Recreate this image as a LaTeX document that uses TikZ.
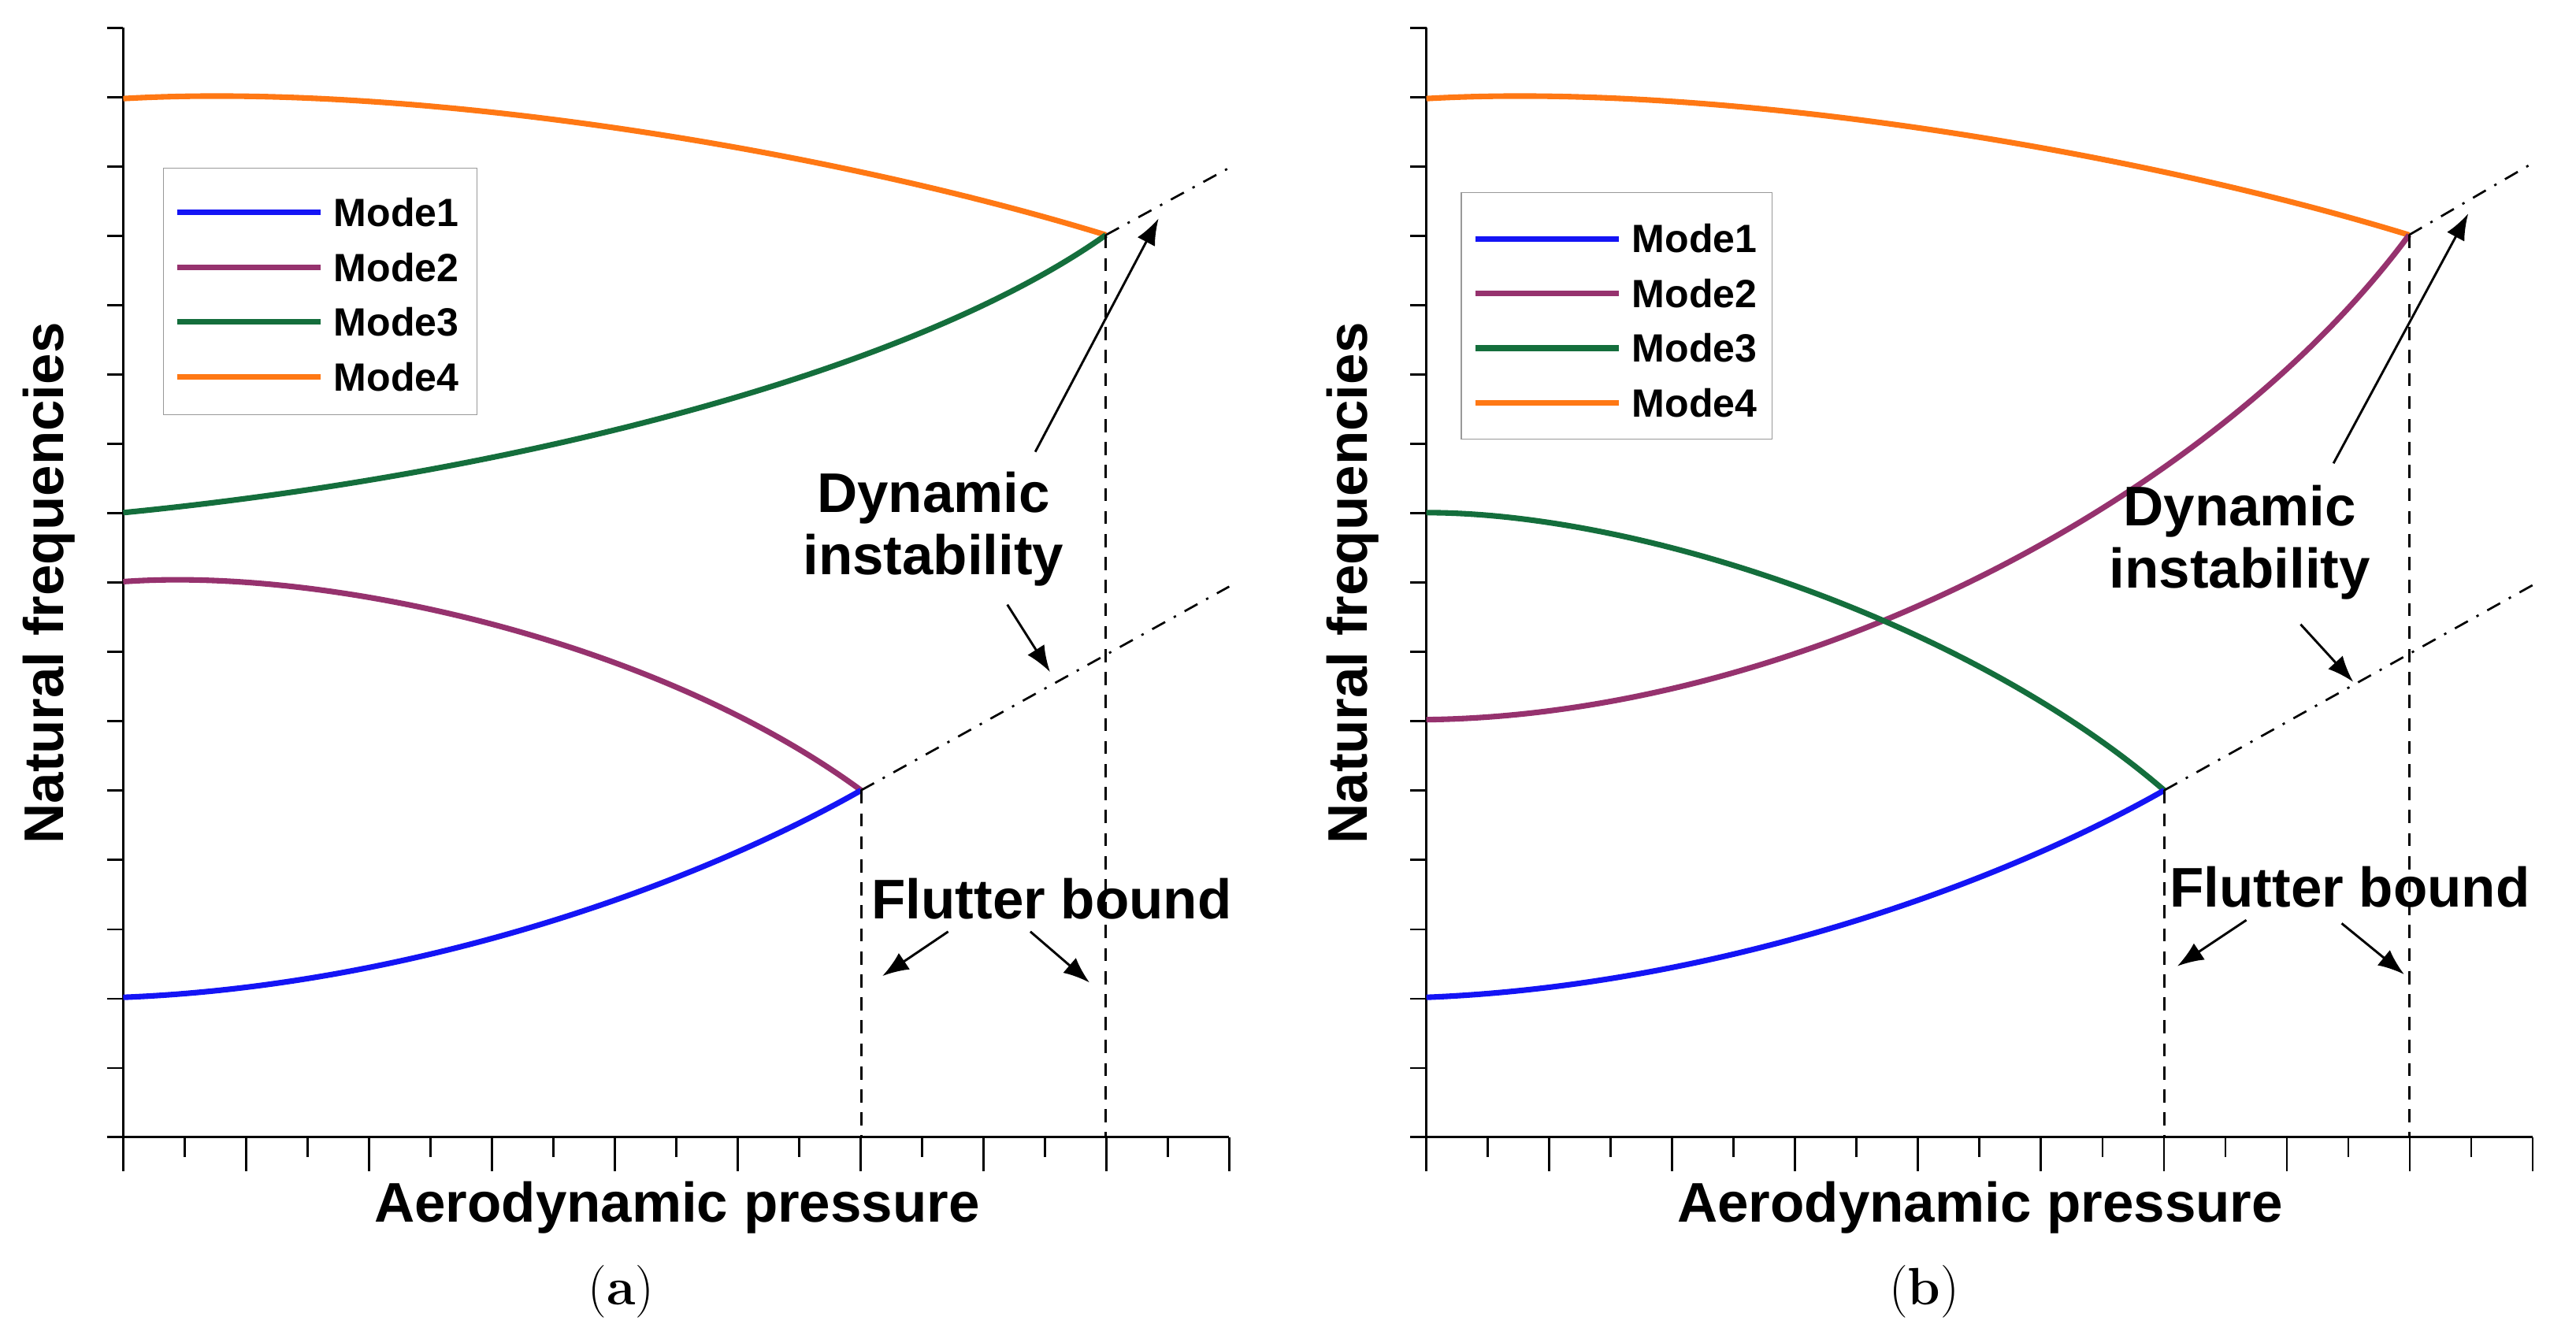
\documentclass[tikz,border=0pt]{standalone}
\usepackage{fontspec}
\setmainfont{Liberation Sans}
\newfontfamily\capfont{Latin Modern Roman}
\usetikzlibrary{arrows.meta}

\tikzset{
    curve/.style={line width=3.4pt},
    flutter/.style={dash pattern=on 8pt off 6pt, line width=1.4pt},
    unstable/.style={dash pattern=on 9pt off 6pt on 1.5pt off 6pt, line width=1.3pt},
    pointer/.style={-{Latex[length=16pt,width=12pt]}, line width=1.4pt},
    label/.style={font=\bfseries\fontsize{34}{38}\selectfont, align=center, inner sep=1pt},
    legtext/.style={font=\bfseries\fontsize{24}{27}\selectfont, anchor=west, inner sep=0pt}
}
\definecolor{mone}{RGB}{20,20,245}
\definecolor{mtwo}{RGB}{150,50,110}
\definecolor{mthree}{RGB}{20,110,60}
\definecolor{mfour}{RGB}{255,120,20}

\begin{document}
\begin{tikzpicture}[x=1pt,y=-1pt]
    \useasboundingbox (0,0) rectangle (1567.6,814.5);

    % axes of both panels
    \foreach \ox/\tag/\cap in {0/a/a, 793/b/b} {
        \begin{scope}[xshift=\ox pt]
            \draw[line width=1.3pt] (75,17) -- (75,692) (65,692) -- (748,692);
            \foreach \k in {0,...,16}
                \draw[line width=1.3pt] (65,17+42.2*\k) -- (75,17+42.2*\k);
            \foreach \k in {0,...,9}
                \draw[line width=1.3pt] (75+74.8*\k,692) -- (75+74.8*\k,713);
            \foreach \k in {0,...,8}
                \draw[line width=1.3pt] (112.4+74.8*\k,692) -- (112.4+74.8*\k,704);
            \node[label, rotate=90] (ylab-\tag) at (30,355) {Natural frequencies};
            \node[label] (xlab-\tag) at (412,735) {Aerodynamic pressure};
            \node[font=\capfont\fontsize{32}{36}\selectfont] (cap-\tag) at (378,786) {(\textbf{\cap})};
        \end{scope}
    }

    % panel (a)
    \coordinate (pa1) at (524,481);
    \coordinate (pa2) at (673,143);
    \draw[curve, mfour] (75,60) .. controls (250,50) and (500,90) .. (pa2);
    \draw[curve, mthree] (75,312) .. controls (300,290) and (550,230) .. (pa2);
    \draw[curve, mtwo] (75,354) .. controls (200,345) and (400,390) .. (pa1);
    \draw[curve, mone] (75,607) .. controls (250,600) and (420,540) .. (pa1);
    \coordinate (ea1) at (748,357);
    \coordinate (ea2) at (752,100);
    \coordinate (ba1) at (524,692);
    \coordinate (ba2) at (673,692);
    \draw[unstable] (pa1) -- (ea1);
    \draw[unstable] (pa2) -- (ea2);
    \draw[flutter] (pa1) -- (ba1);
    \draw[flutter] (pa2) -- (ba2);
    \node[label] (dyn-a) at (568,322) {Dynamic\\instability};
    \node[label] (flu-a) at (640,547) {Flutter bound};
    \draw[pointer] (630,275) -- (705,133);
    \draw[pointer] (613,368) -- (639,409);
    \draw[pointer] (577,567) -- (537,594);
    \draw[pointer] (627,567) -- (663,598);
    \node[draw=black!40, line width=0.6pt, minimum width=191pt, minimum height=150pt, anchor=north west] (leg-a) at (99,102) {};
    \foreach \c/\n [count=\i] in {mone/Mode1, mtwo/Mode2, mthree/Mode3, mfour/Mode4} {
        \draw[curve, \c] (108,96+33.3*\i) -- (195,96+33.3*\i);
        \node[legtext] (la-\i) at (203,96+33.3*\i) {\n};
    }

    % panel (b)
    \coordinate (pb1) at (1317,481);
    \coordinate (pb2) at (1466,143);
    \draw[curve, mfour] (868,60) .. controls (1043,50) and (1293,90) .. (pb2);
    \draw[curve, mtwo] (868,438) .. controls (1100,435) and (1350,300) .. (pb2);
    \draw[curve, mthree] (868,312) .. controls (1000,312) and (1200,380) .. (pb1);
    \draw[curve, mone] (868,607) .. controls (1043,600) and (1213,540) .. (pb1);
    \coordinate (eb1) at (1545,354);
    \coordinate (eb2) at (1540,100);
    \coordinate (bb1) at (1317,692);
    \coordinate (bb2) at (1466,692);
    \draw[unstable] (pb1) -- (eb1);
    \draw[unstable] (pb2) -- (eb2);
    \draw[flutter] (pb1) -- (bb1);
    \draw[flutter] (pb2) -- (bb2);
    \node[label] (dyn-b) at (1363,330) {Dynamic\\instability};
    \node[label] (flu-b) at (1430,540) {Flutter bound};
    \draw[pointer] (1420,282) -- (1502,130);
    \draw[pointer] (1400,380) -- (1432,415);
    \draw[pointer] (1367,560) -- (1325,588);
    \draw[pointer] (1425,562) -- (1463,593);
    \node[draw=black!40, line width=0.6pt, minimum width=189pt, minimum height=150pt, anchor=north west] (leg-b) at (889,117) {};
    \foreach \c/\n [count=\i] in {mone/Mode1, mtwo/Mode2, mthree/Mode3, mfour/Mode4} {
        \draw[curve, \c] (898,112+33.3*\i) -- (985,112+33.3*\i);
        \node[legtext] (lb-\i) at (993,112+33.3*\i) {\n};
    }
\end{tikzpicture}
\end{document}
